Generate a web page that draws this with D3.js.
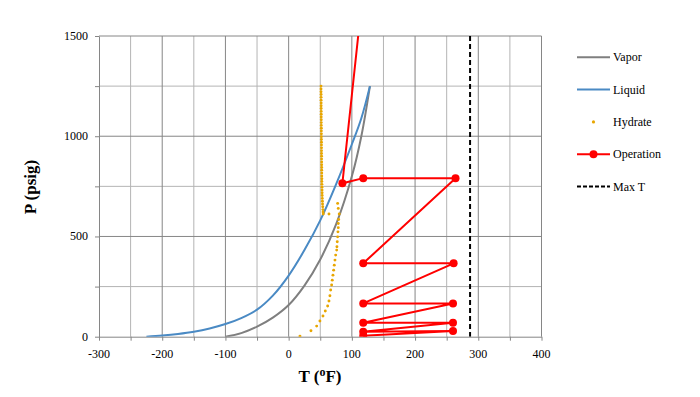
<!DOCTYPE html>
<html>
<head>
<meta charset="utf-8">
<script src="https://cdn.jsdelivr.net/npm/d3@7"></script>
<style>
    body { margin: 0; background: #fff; }
    text { font-family: "Liberation Serif", "Times New Roman", serif; }
</style>
</head>
<body>
<svg id="chart" width="700" height="397"></svg>
<script>
    // vapor curve (T degF, P psig)
    const vapor = [
        [-100, 0], [-75, 18], [-50, 50], [-25, 95], [0, 158], [25, 255],
        [50, 385], [75, 560], [100, 800], [115, 1000], [128.6, 1250]
    ];

    // liquid curve
    const liquid = [
        [-225, 0], [-200, 6], [-175, 14], [-150, 25], [-125, 41], [-100, 63],
        [-75, 93], [-50, 135], [-25, 205], [0, 305], [25, 432], [50, 580],
        [75, 760], [100, 960], [115, 1090], [128.6, 1250]
    ];

    // hydrate points
    const hydrate = [
        [51.2, 1250], [51.2, 1236], [51.2, 1222], [51.3, 1208], [51.3, 1194], [51.3, 1180],
        [51.4, 1166], [51.4, 1152], [51.4, 1138], [51.5, 1124], [51.5, 1110], [51.5, 1096],
        [51.6, 1082], [51.6, 1068], [51.6, 1054], [51.7, 1040], [51.7, 1026], [51.8, 1012],
        [51.8, 998], [51.8, 984], [51.9, 970], [51.9, 956], [52.0, 942], [52.0, 928],
        [52.0, 914], [52.1, 900], [52.1, 886], [52.2, 872], [52.2, 858], [52.3, 844],
        [52.3, 830], [52.4, 816], [52.4, 802], [52.5, 788], [52.5, 774], [52.6, 760],
        [52.7, 746], [52.8, 732], [52.9, 718], [53.0, 704], [53.2, 690], [53.4, 676],
        [53.6, 662], [53.9, 648], [54.2, 634], [54.5, 622], [54.8, 612],
        [63.8, 612],
        [77.5, 665], [78.5, 640], [80, 612], [79.1, 585], [78.5, 565], [78.5, 544],
        [78, 523], [77.5, 498], [76.9, 474], [76.4, 449], [76, 432], [74.4, 407],
        [73.3, 382], [72.2, 357], [71.2, 332], [70.1, 307], [69, 282], [68, 258],
        [66.5, 233], [65.3, 204], [63.8, 178], [61.7, 153], [58, 128], [54.3, 103],
        [49.5, 78], [44.3, 53], [35.3, 30], [17.9, 3]
    ];

    // operating path
    const operation = [
        [118, 1735], [85, 765], [118, 791], [264, 791], [118, 366], [261, 366],
        [118, 166], [260, 166], [118, 70], [260, 70], [118, 25], [260, 28], [118, 5]
    ];

    const maxT = 287;

    const xTicks = [-300, -200, -100, 0, 100, 200, 300, 400];
    const yTicks = [0, 500, 1000, 1500];

    const svg = d3.select("#chart");
    const m = {left: 99, right: 541.5, top: 36, bottom: 336.7};

    const x = d3.scaleLinear().domain([-300, 400]).range([m.left, m.right]);
    const y = d3.scaleLinear().domain([0, 1500]).range([m.bottom, m.top]);

    svg.append("rect").attr("width", 700).attr("height", 397).attr("fill", "#fff");

    svg.append("clipPath").attr("id", "plot")
        .append("rect")
        .attr("x", m.left).attr("y", m.top)
        .attr("width", m.right - m.left).attr("height", m.bottom - m.top);

    // grid: minor lines first, major on top
    const grid = svg.append("g");
    grid.append("g").selectAll("line")
        .data(d3.range(-250, 400, 100))
        .join("line")
        .attr("x1", d => x(d)).attr("x2", d => x(d))
        .attr("y1", m.top).attr("y2", m.bottom)
        .attr("stroke", "#b4b4b4").attr("stroke-width", 1);
    grid.append("g").selectAll("line")
        .data([250, 750, 1250])
        .join("line")
        .attr("x1", m.left).attr("x2", m.right)
        .attr("y1", d => y(d)).attr("y2", d => y(d))
        .attr("stroke", "#b4b4b4").attr("stroke-width", 1);
    grid.append("g").selectAll("line")
        .data(xTicks.slice(1))
        .join("line")
        .attr("x1", d => x(d)).attr("x2", d => x(d))
        .attr("y1", m.top).attr("y2", m.bottom)
        .attr("stroke", "#868686").attr("stroke-width", 1);
    grid.append("g").selectAll("line")
        .data(yTicks.slice(1))
        .join("line")
        .attr("x1", m.left).attr("x2", m.right)
        .attr("y1", d => y(d)).attr("y2", d => y(d))
        .attr("stroke", "#868686").attr("stroke-width", 1);

    // axes
    const xAxis = svg.append("g")
        .attr("transform", `translate(0,${m.bottom})`)
        .call(d3.axisBottom(x).tickValues(d3.range(-300, 401, 50)).tickSize(4).tickSizeOuter(0).tickFormat(""));
    const yAxis = svg.append("g")
        .attr("transform", `translate(${m.left},0)`)
        .call(d3.axisLeft(y).tickValues(d3.range(0, 1501, 250)).tickSize(4).tickSizeOuter(0).tickFormat(""));
    [xAxis, yAxis].forEach(a => {
        a.selectAll("path, line").attr("stroke", "#868686");
    });

    svg.append("g").selectAll("text")
        .data(xTicks)
        .join("text")
        .attr("x", d => x(d)).attr("y", m.bottom + 21)
        .attr("text-anchor", "middle")
        .attr("font-size", 12)
        .text(d => d);

    svg.append("g").selectAll("text")
        .data(yTicks)
        .join("text")
        .attr("x", m.left - 11).attr("y", d => y(d) + 4)
        .attr("text-anchor", "end")
        .attr("font-size", 12)
        .text(d => d);

    // axis titles
    svg.append("text")
        .attr("transform", `translate(36,187) rotate(-90)`)
        .attr("text-anchor", "middle")
        .attr("font-size", 17).attr("font-weight", "bold")
        .text("P (psig)");

    const xt = svg.append("text")
        .attr("x", 320).attr("y", 382)
        .attr("text-anchor", "middle")
        .attr("font-size", 17).attr("font-weight", "bold");
    xt.append("tspan").text("T (");
    xt.append("tspan").attr("font-size", 12).attr("dy", -6).text("o");
    xt.append("tspan").attr("dy", 6).text("F)");

    // series
    const plot = svg.append("g").attr("clip-path", "url(#plot)");
    const line = d3.line().x(d => x(d[0])).y(d => y(d[1]));
    const smooth = d3.line().x(d => x(d[0])).y(d => y(d[1])).curve(d3.curveCatmullRom.alpha(0.5));

    plot.append("path").datum(vapor)
        .attr("d", smooth).attr("fill", "none")
        .attr("stroke", "#7f7f7f").attr("stroke-width", 2);
    plot.append("path").datum(liquid)
        .attr("d", smooth).attr("fill", "none")
        .attr("stroke", "#4a8ac4").attr("stroke-width", 2);

    plot.append("g").selectAll("circle")
        .data(hydrate)
        .join("circle")
        .attr("cx", d => x(d[0])).attr("cy", d => y(d[1]))
        .attr("r", 1.45).attr("fill", "#e8a600");

    plot.append("path").datum(operation)
        .attr("d", line).attr("fill", "none")
        .attr("stroke", "#ff0000").attr("stroke-width", 2);
    plot.append("g").selectAll("circle")
        .data(operation)
        .join("circle")
        .attr("cx", d => x(d[0])).attr("cy", d => y(d[1]))
        .attr("r", 4).attr("fill", "#ff0000");

    plot.append("line")
        .attr("x1", x(maxT)).attr("x2", x(maxT))
        .attr("y1", y(1500)).attr("y2", y(0))
        .attr("stroke", "#000").attr("stroke-width", 2)
        .attr("stroke-dasharray", "5,3");

    // legend
    const legend = [
        {name: "Vapor", color: "#7f7f7f", type: "line"},
        {name: "Liquid", color: "#4a8ac4", type: "line"},
        {name: "Hydrate", color: "#e8a600", type: "dot"},
        {name: "Operation", color: "#ff0000", type: "marker"},
        {name: "Max T", color: "#000", type: "dash"},
    ];
    const lg = svg.append("g").selectAll("g")
        .data(legend)
        .join("g")
        .attr("transform", (d, i) => `translate(577,${57.3 + i * 32.3})`);
    lg.filter(d => d.type !== "dot").append("line")
        .attr("x1", 0).attr("x2", 33)
        .attr("stroke", d => d.color).attr("stroke-width", 2)
        .attr("stroke-dasharray", d => d.type === "dash" ? "4,2" : null);
    lg.filter(d => d.type === "dot").append("circle")
        .attr("cx", 16.5).attr("r", 1.6).attr("fill", d => d.color);
    lg.filter(d => d.type === "marker").append("circle")
        .attr("cx", 16.5).attr("r", 4).attr("fill", d => d.color);
    lg.append("text")
        .attr("x", 36).attr("y", 4)
        .attr("font-size", 12)
        .text(d => d.name);
</script>
</body>
</html>
